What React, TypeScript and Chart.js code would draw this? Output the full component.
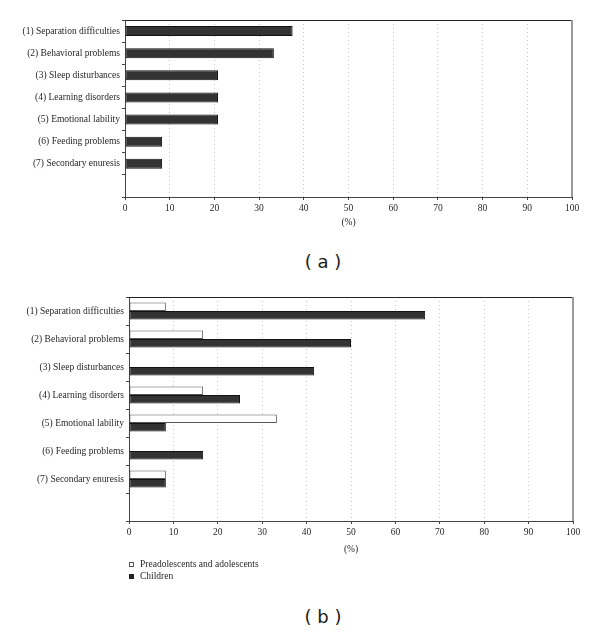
import React, { useEffect, useRef } from 'react';
import { Chart, registerables } from 'chart.js';

Chart.register(...registerables);

const categories = [
  '(1) Separation difficulties',
  '(2) Behavioral problems',
  '(3) Sleep disturbances',
  '(4) Learning disorders',
  '(5) Emotional lability',
  '(6) Feeding problems',
  '(7) Secondary enuresis',
];
const overallValues = [37.5, 33.3, 20.8, 20.8, 20.8, 8.3, 8.3];
const preadolescentValues = [8.3, 16.7, 0, 16.7, 33.3, 0, 8.3];
const childrenValues = [66.7, 50, 41.7, 25, 8.3, 16.7, 8.3];
const seriesLabels = ['Preadolescents and adolescents', 'Children'];
const xMin = 0;
const xMax = 100;
const xStep = 10;
const axisTitle = '(%)';
const panelLabels = ['( a )', '( b )'];

const SERIF = "'Liberation Serif', 'Times New Roman', serif";
const TEXT = '#231f20';
const DARK_FILL = '#333333';
const DARK_EDGE = '#111111';

const framePlugin = {
  id: 'frame',
  afterDraw(chart: any) {
    const { ctx, chartArea } = chart;
    const { left, right, top, bottom } = chartArea;
    ctx.save();
    ctx.strokeStyle = '#222';
    ctx.lineWidth = 1;
    ctx.beginPath();
    ctx.moveTo(left, top + 0.5);
    ctx.lineTo(right, top + 0.5);
    ctx.stroke();
    ctx.strokeStyle = '#9a9a9a';
    ctx.lineWidth = 2;
    ctx.beginPath();
    ctx.moveTo(right, top);
    ctx.lineTo(right, bottom);
    ctx.stroke();
    ctx.restore();
  },
};

type PanelProps = {
  top: number;
  height: number;
  datasets: any[];
  yWidth: number;
  padTop: number;
  padRight: number;
  padBottom: number;
  xHeight: number;
};

function BarPanel({ top, height, datasets, yWidth, padTop, padRight, padBottom, xHeight }: PanelProps) {
  const ref = useRef<HTMLCanvasElement | null>(null);
  useEffect(() => {
    if (!ref.current) return;
    const chart = new Chart(ref.current, {
      type: 'bar',
      data: {
        labels: [...categories, ''],
        datasets,
      },
      options: {
        indexAxis: 'y',
        animation: false,
        responsive: false,
        devicePixelRatio: 1,
        layout: { padding: { top: padTop, right: padRight, bottom: padBottom, left: 0 } },
        plugins: {
          legend: { display: false },
          tooltip: { enabled: false },
        },
        scales: {
          x: {
            type: 'linear',
            min: xMin,
            max: xMax,
            ticks: {
              stepSize: xStep,
              color: TEXT,
              padding: 3,
              font: { family: SERIF, size: 9.5 },
            },
            grid: {
              color: (c: any) =>
                c.tick && (c.tick.value === xMin || c.tick.value === xMax) ? 'rgba(0,0,0,0)' : '#c4c4c4',
              drawOnChartArea: true,
              drawTicks: true,
              tickLength: 3,
              tickColor: '#444',
              tickWidth: 1,
            },
            border: { display: true, color: '#444', width: 1, dash: [1, 3] },
            title: {
              display: true,
              text: axisTitle,
              color: TEXT,
              font: { family: SERIF, size: 9.5 },
              padding: { top: 0, bottom: 4 },
            },
            afterFit: (s: any) => {
              s.height = xHeight;
            },
          },
          y: {
            type: 'category',
            ticks: {
              color: TEXT,
              padding: 2,
              font: { family: SERIF, size: 9.5 },
            },
            grid: {
              offset: true,
              drawOnChartArea: false,
              drawTicks: true,
              tickLength: 3,
              tickColor: '#444',
            },
            border: { display: true, color: '#444', width: 1 },
            afterFit: (s: any) => {
              s.width = yWidth;
            },
          },
        },
      },
      plugins: [framePlugin],
    } as any);
    return () => chart.destroy();
  }, []);
  return (
    <canvas
      ref={ref}
      width={600}
      height={height}
      style={{ position: 'absolute', left: 0, top, width: 600, height }}
    />
  );
}

const panelLabelStyle = (top: number): React.CSSProperties => ({
  position: 'absolute',
  left: 323,
  top,
  transform: 'translateX(-50%)',
  fontFamily: "'DejaVu Sans', sans-serif",
  fontSize: 18,
  lineHeight: '22px',
  color: '#1a1a1a',
  whiteSpace: 'pre',
});

export default function App() {
  const datasetsA = [
    {
      label: 'Overall',
      data: overallValues,
      backgroundColor: DARK_FILL,
      borderColor: DARK_EDGE,
      borderWidth: 1,
      borderSkipped: false,
      barPercentage: 0.45,
      categoryPercentage: 1,
    },
  ];
  const datasetsB = [
    {
      label: seriesLabels[0],
      data: preadolescentValues,
      backgroundColor: '#ffffff',
      borderColor: '#555555',
      borderWidth: 1,
      borderSkipped: false,
      barPercentage: 1,
      categoryPercentage: 0.6,
    },
    {
      label: seriesLabels[1],
      data: childrenValues,
      backgroundColor: DARK_FILL,
      borderColor: DARK_EDGE,
      borderWidth: 1,
      borderSkipped: false,
      barPercentage: 1,
      categoryPercentage: 0.6,
    },
  ];
  const legendColors = [
    { bg: '#ffffff', border: '#555' },
    { bg: '#222', border: '#222' },
  ];
  return (
    <div style={{ position: 'absolute', left: 0, top: 0, width: 600, height: 632, background: '#fff', overflow: 'hidden' }}>
      <BarPanel
        top={0}
        height={240}
        datasets={datasetsA}
        yWidth={125}
        padTop={20}
        padRight={28}
        padBottom={8}
        xHeight={35}
      />
      <div style={panelLabelStyle(251)}>{panelLabels[0]}</div>
      <BarPanel
        top={280}
        height={300}
        datasets={datasetsB}
        yWidth={129}
        padTop={17}
        padRight={27}
        padBottom={21}
        xHeight={38}
      />
      {seriesLabels.map((lab, i) => (
        <div
          key={lab}
          style={{
            position: 'absolute',
            left: 129,
            top: 558 + i * 12,
            height: 12,
            display: 'flex',
            alignItems: 'center',
            fontFamily: SERIF,
            fontSize: 9.5,
            color: TEXT,
            whiteSpace: 'nowrap',
          }}
        >
          <span
            style={{
              display: 'inline-block',
              width: 3,
              height: 3,
              background: legendColors[i].bg,
              border: `1px solid ${legendColors[i].border}`,
              marginRight: 6,
            }}
          />
          <span>{lab}</span>
        </div>
      ))}
      <div style={panelLabelStyle(606)}>{panelLabels[1]}</div>
    </div>
  );
}
